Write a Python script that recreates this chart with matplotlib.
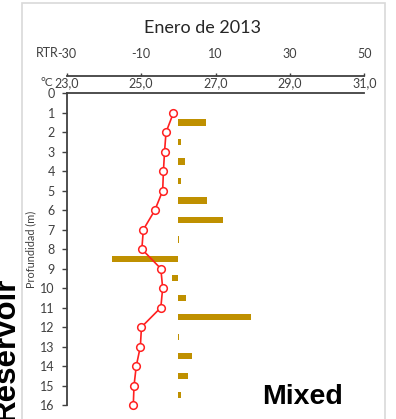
import matplotlib
matplotlib.use("Agg")
import matplotlib.pyplot as plt
from matplotlib.patches import Rectangle

# Data
depth_temp = list(range(1, 17))
temperature = [25.87, 25.67, 25.63, 25.60, 25.58, 25.37, 25.06, 25.02,
               25.53, 25.58, 25.53, 25.01, 24.98, 24.87, 24.81, 24.79]
depth_rtr = [1.5, 2.5, 3.5, 4.5, 5.5, 6.5, 7.5, 8.5, 9.5, 10.5, 11.5, 12.5, 13.5, 14.5, 15.5]
rtr = [7.4, 0.6, 1.9, 0.6, 7.8, 11.9, 0.25, -17.7, -1.8, 2.2, 19.5, 0.25, 3.8, 2.7, 0.7]
temp_ticks = [23, 25, 27, 29, 31]
temp_labels = ["23,0", "25,0", "27,0", "29,0", "31,0"]
rtr_ticks = [-30, -10, 10, 30, 50]
rtr_labels = ["-30", "-10", "10", "30", "50"]
depth_ticks = list(range(0, 17))

W, H = 396, 419
fig = plt.figure(figsize=(W / 100, H / 100), dpi=100)
plt.rcParams['font.family'] = ['Lato', 'DejaVu Sans']

# light frame
fig.patches.append(Rectangle((22 / W, -0.1), (385 - 22) / W, 1.1 - 3 / H,
                             transform=fig.transFigure, fill=False,
                             edgecolor='#d9d9d9', linewidth=1.2))

left, right, top, bottom = 66.7, 364.3, 93.3, 405
ax = fig.add_axes([left / W, 1 - bottom / H, (right - left) / W, (bottom - top) / H])
ax2 = ax.twiny()

spine_c = '#404040'
# main axis: temperature
ax.set_xlim(23, 31)
ax.set_ylim(16, 0)
ax.xaxis.tick_top()
ax.set_xticks(temp_ticks)
ax.set_xticklabels(temp_labels)
ax.tick_params(axis='x', length=0, pad=3, labelsize=9, colors='#404040')
ax.set_yticks(depth_ticks)
ax.tick_params(axis='y', length=3.5, width=1, direction='out', pad=5,
               labelsize=9, colors='#404040')
for s in ['right', 'bottom']:
    ax.spines[s].set_visible(False)
for s in ['left', 'top']:
    ax.spines[s].set_color(spine_c)
    ax.spines[s].set_linewidth(1.3)
ax.set_ylabel("Profundidad (m)", fontsize=7.8, color='#404040', labelpad=3)

# secondary axis: RTR
ax2.set_xlim(-30, 50)
ax2.set_xticks(rtr_ticks)
ax2.set_xticklabels(rtr_labels)
ax2.spines['top'].set_position(('outward', 12.5))
for s in ['right', 'bottom', 'left']:
    ax2.spines[s].set_visible(False)
ax2.spines['top'].set_color(spine_c)
ax2.spines['top'].set_linewidth(1.3)
ax2.tick_params(axis='x', length=2.5, width=1, direction='out', pad=9,
                labelsize=9, colors='#404040')
ax2.barh(depth_rtr, rtr, height=0.32, color='#BF9000', zorder=2)

ax.set_zorder(ax2.get_zorder() + 1)
ax.patch.set_visible(False)
ax.plot(temperature, depth_temp, color='#FF2020', linewidth=1.2, marker='o',
        markersize=5.5, markerfacecolor='white', markeredgecolor='#FF2020',
        markeredgewidth=1.1, zorder=3, clip_on=False)

# extra texts
fig.text(203 / W, 1 - 28 / H, "Enero de 2013", ha='center', va='center',
         fontsize=13, color='#262626')
fig.text(58.5 / W, 1 - 53 / H, "RTR", ha='right', va='center', fontsize=9, color='#404040')
fig.text(53 / W, 1 - 83 / H, "°C", ha='right', va='center', fontsize=8.5, color='#404040')
fig.text(21 / W, 1 - 277 / H, "Reservoir", rotation=90, ha='right', va='top',
         fontsize=22.5, fontweight='bold', family='Liberation Sans', color='black')
fig.text(303 / W, 1 - 397 / H, "Mixed", ha='center', va='center',
         fontsize=20.5, fontweight='bold', family='Liberation Sans', color='black')

fig.savefig("out.png", dpi=100)
